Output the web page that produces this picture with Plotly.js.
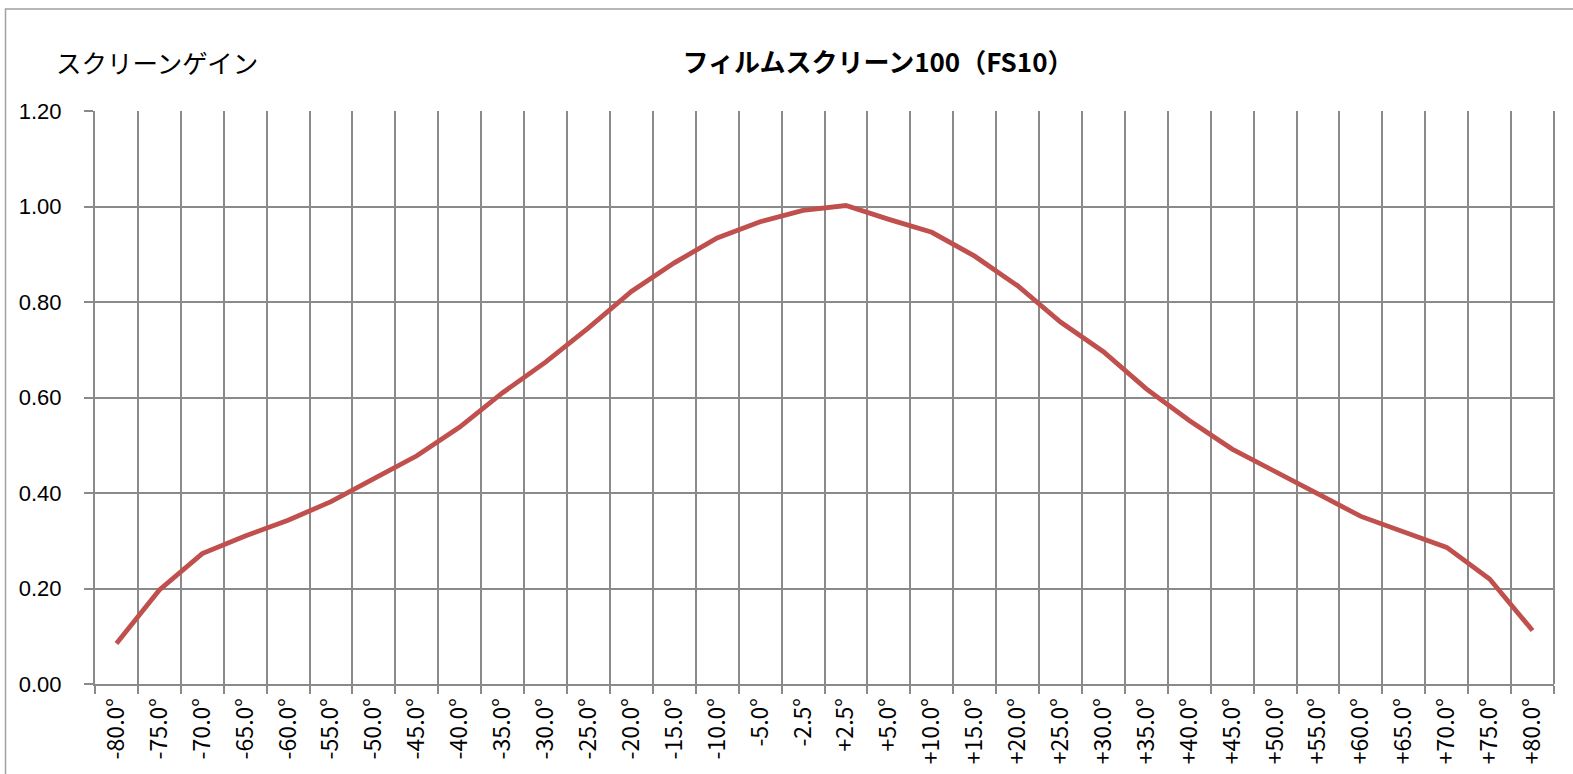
<!DOCTYPE html>
<html>
<head>
<meta charset="utf-8">
<script src="https://cdn.plot.ly/plotly-3.0.1.min.js"></script>
<style>html,body{margin:0;padding:0;background:#fff;}#chart{width:1573px;height:774px;}</style>
</head>
<body>
<div id="chart"></div>
<script>
const chartTitle = "フィルムスクリーン100（FS10）";
const yAxisLabel = "スクリーンゲイン";
const angles = ["-80.0°","-75.0°","-70.0°","-65.0°","-60.0°","-55.0°","-50.0°","-45.0°","-40.0°","-35.0°","-30.0°","-25.0°","-20.0°","-15.0°","-10.0°","-5.0°","-2.5°",
                "+2.5°","+5.0°","+10.0°","+15.0°","+20.0°","+25.0°","+30.0°","+35.0°","+40.0°","+45.0°","+50.0°","+55.0°","+60.0°","+65.0°","+70.0°","+75.0°","+80.0°"];
const gain = [0.085,0.197,0.273,0.310,0.343,0.382,0.430,0.478,0.538,0.610,0.674,0.746,0.822,0.882,0.934,0.968,0.992,
              1.002,0.973,0.946,0.896,0.834,0.758,0.696,0.618,0.552,0.492,0.446,0.398,0.351,0.318,0.286,0.220,0.112];
const yTicks = [0,0.2,0.4,0.6,0.8,1.0,1.2];

const gridColor = "#8a8a8a";
const data = [{
  type: "scatter", mode: "lines", x: angles, y: gain,
  line: {color: "#C0504D", width: 4.8},
  hoverinfo: "x+y"
}];
const L = 95, R = 1554, T = 111, B = 684;
const W = 1573, H = 774;
const layout = {
  width: W, height: H,
  margin: {l: L, r: W - R, t: T, b: H - B, pad: 0},
  paper_bgcolor: "#ffffff", plot_bgcolor: "#ffffff",
  showlegend: false,
  title: {text: "<b>" + chartTitle + "</b>", x: 878 / W, xref: "container", xanchor: "center",
          y: 1 - 63 / H, yref: "container", yanchor: "middle",
          font: {family: "Noto Sans CJK JP", size: 26, color: "#000"}},
  xaxis: {
    type: "category", range: [-0.5, angles.length - 0.5], tickson: "boundaries",
    showgrid: true, gridcolor: gridColor, gridwidth: 2,
    showline: true, linecolor: gridColor, linewidth: 2,
    ticks: "outside", ticklen: 8, tickcolor: gridColor, tickwidth: 2,
    tickangle: -90, tickfont: {family: "Noto Sans CJK JP", size: 23, color: "#000"},
    ticklabelstandoff: 3, fixedrange: true
  },
  yaxis: {
    range: [0, 1.2], tickvals: yTicks, tickformat: ".2f",
    showgrid: true, gridcolor: gridColor, gridwidth: 2,
    zeroline: false, showline: true, linecolor: gridColor, linewidth: 2,
    ticks: "outside", ticklen: 9, tickcolor: gridColor, tickwidth: 2,
    tickfont: {family: "Liberation Sans, Arial, sans-serif", size: 22, color: "#000"},
    ticklabelstandoff: 18, fixedrange: true
  },
  annotations: [{
    text: yAxisLabel, xref: "paper", yref: "paper",
    x: (54 - L) / (R - L), y: (B - 62) / (B - T), xanchor: "left", yanchor: "middle",
    showarrow: false, font: {family: "Noto Sans CJK JP", size: 25.5, color: "#000"}
  }],
  shapes: [
    {type: "rect", xref: "paper", yref: "paper",
     x0: (5.5 - L) / (R - L), x1: (1590 - L) / (R - L),
     y0: (B - 800) / (B - T), y1: (B - 9) / (B - T),
     line: {color: "#a0a0a0", width: 1.5}, fillcolor: "rgba(0,0,0,0)", layer: "below"},
    {type: "line", xref: "paper", yref: "paper", x0: 1, x1: 1, y0: 0, y1: 1,
     line: {color: gridColor, width: 2}}
  ]
};
Plotly.newPlot("chart", data, layout, {displayModeBar: false, staticPlot: true});
</script>
</body>
</html>
